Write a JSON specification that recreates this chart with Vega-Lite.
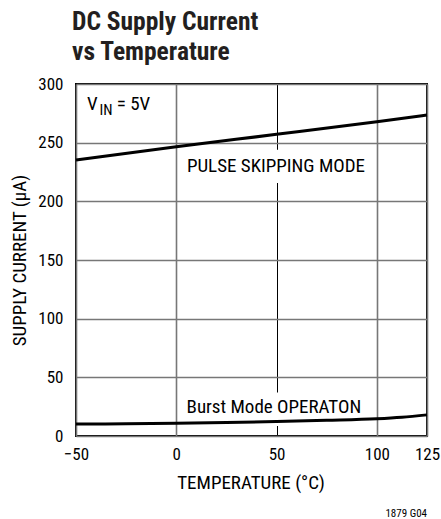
{
  "$schema": "https://vega.github.io/schema/vega-lite/v6.json",
  "autosize": "none",
  "padding": {"left": 76, "top": 84, "right": 14, "bottom": 83},
  "width": 351,
  "height": 352,
  "background": "white",
  "title": {
    "text": ["DC Supply Current", "vs Temperature"],
    "anchor": "start",
    "frame": "group",
    "font": "Roboto Condensed, DejaVu Sans Condensed, Liberation Sans, sans-serif",
    "fontSize": 25.5,
    "fontWeight": "bold",
    "color": "#231f20",
    "lineHeight": 30,
    "dx": -4,
    "offset": 10
  },
  "config": {
    "font": "Roboto Condensed, DejaVu Sans Condensed, Liberation Sans, sans-serif",
    "view": {"stroke": "black", "strokeWidth": 2},
    "axis": {
      "domain": false,
      "ticks": false,
      "tickSize": 0,
      "labelFontSize": 17,
      "labelColor": "black",
      "titleFontSize": 19,
      "titleFontWeight": "normal",
      "titleColor": "black",
      "gridWidth": 1.5
    }
  },
  "datasets": {
    "curves": [
      {"series": "pulse", "temp": -50, "current": 235.2},
      {"series": "pulse", "temp": 0, "current": 246.5},
      {"series": "pulse", "temp": 50, "current": 257.1},
      {"series": "pulse", "temp": 100, "current": 267.9},
      {"series": "pulse", "temp": 125, "current": 273.6},
      {"series": "burst", "temp": -50, "current": 10.2},
      {"series": "burst", "temp": -25, "current": 10.4},
      {"series": "burst", "temp": 0, "current": 10.8},
      {"series": "burst", "temp": 25, "current": 11.5},
      {"series": "burst", "temp": 50, "current": 12.4},
      {"series": "burst", "temp": 75, "current": 13.4},
      {"series": "burst", "temp": 100, "current": 14.7},
      {"series": "burst", "temp": 112.5, "current": 16.0},
      {"series": "burst", "temp": 125, "current": 18.0}
    ],
    "boxes": [
      {"x1": 3, "x2": 97, "y1": 215.6, "y2": 244},
      {"x1": 3, "x2": 97, "y1": 8.5, "y2": 37}
    ],
    "labels": [
      {"text": "PULSE SKIPPING MODE", "temp": 5.3, "current": 224.7, "size": "big"},
      {"text": "Burst Mode OPERATON", "temp": 5.1, "current": 19.3, "size": "big"},
      {"text": "V", "temp": -44.5, "current": 277.8, "size": "big"},
      {"text": "IN", "temp": -38.3, "current": 273.6, "size": "sub"},
      {"text": "= 5V", "temp": -29.7, "current": 277.8, "size": "big"}
    ],
    "note": [
      {"text": "1879 G04", "temp": 125, "current": -66.5}
    ]
  },
  "layer": [
    {
      "data": {"name": "boxes"},
      "mark": {"type": "rect", "color": "white"},
      "encoding": {
        "x": {"field": "x1", "type": "quantitative", "scale": {"domain": [-50, 125], "nice": false, "zero": false},
          "axis": {
            "values": [-50, 0, 50, 100, 125],
            "title": "TEMPERATURE (°C)",
            "labelPadding": 10,
            "labelFlush": false,
            "titleX": 174.5,
            "titleY": 46,
            "titleBaseline": "middle",
            "titleAnchor": null,
            "gridColor": {"condition": {"test": "datum.value === 50", "value": "black"}, "value": "#777777"},
            "gridWidth": {"condition": {"test": "datum.value === 50", "value": 1}, "value": 1.6}
          }
        },
        "x2": {"field": "x2"},
        "y": {"field": "y1", "type": "quantitative", "scale": {"domain": [0, 300], "nice": false},
          "axis": {
            "values": [0, 50, 100, 150, 200, 250, 300],
            "title": "SUPPLY CURRENT (μA)",
            "labelPadding": 13,
            "titleAngle": -90,
            "titleX": -57,
            "titleY": 176,
            "titleAlign": "center",
            "titleBaseline": "middle",
            "gridColor": "#777777"
          }
        },
        "y2": {"field": "y2"}
      }
    },
    {
      "data": {"name": "curves"},
      "mark": {"type": "line", "color": "black", "strokeWidth": 3, "interpolate": "monotone"},
      "encoding": {
        "x": {"field": "temp", "type": "quantitative"},
        "y": {"field": "current", "type": "quantitative"},
        "detail": {"field": "series"}
      }
    },
    {
      "data": {"name": "labels"},
      "mark": {"type": "text", "align": "left", "baseline": "alphabetic", "color": "black"},
      "encoding": {
        "x": {"field": "temp", "type": "quantitative"},
        "y": {"field": "current", "type": "quantitative"},
        "text": {"field": "text"},
        "size": {"field": "size", "type": "nominal", "scale": {"domain": ["big", "sub"], "range": [19, 15]}, "legend": null}
      }
    },
    {
      "data": {"name": "note"},
      "mark": {"type": "text", "align": "right", "baseline": "middle", "color": "black", "fontSize": 11},
      "encoding": {
        "x": {"field": "temp", "type": "quantitative"},
        "y": {"field": "current", "type": "quantitative"},
        "text": {"field": "text"}
      }
    }
  ]
}
